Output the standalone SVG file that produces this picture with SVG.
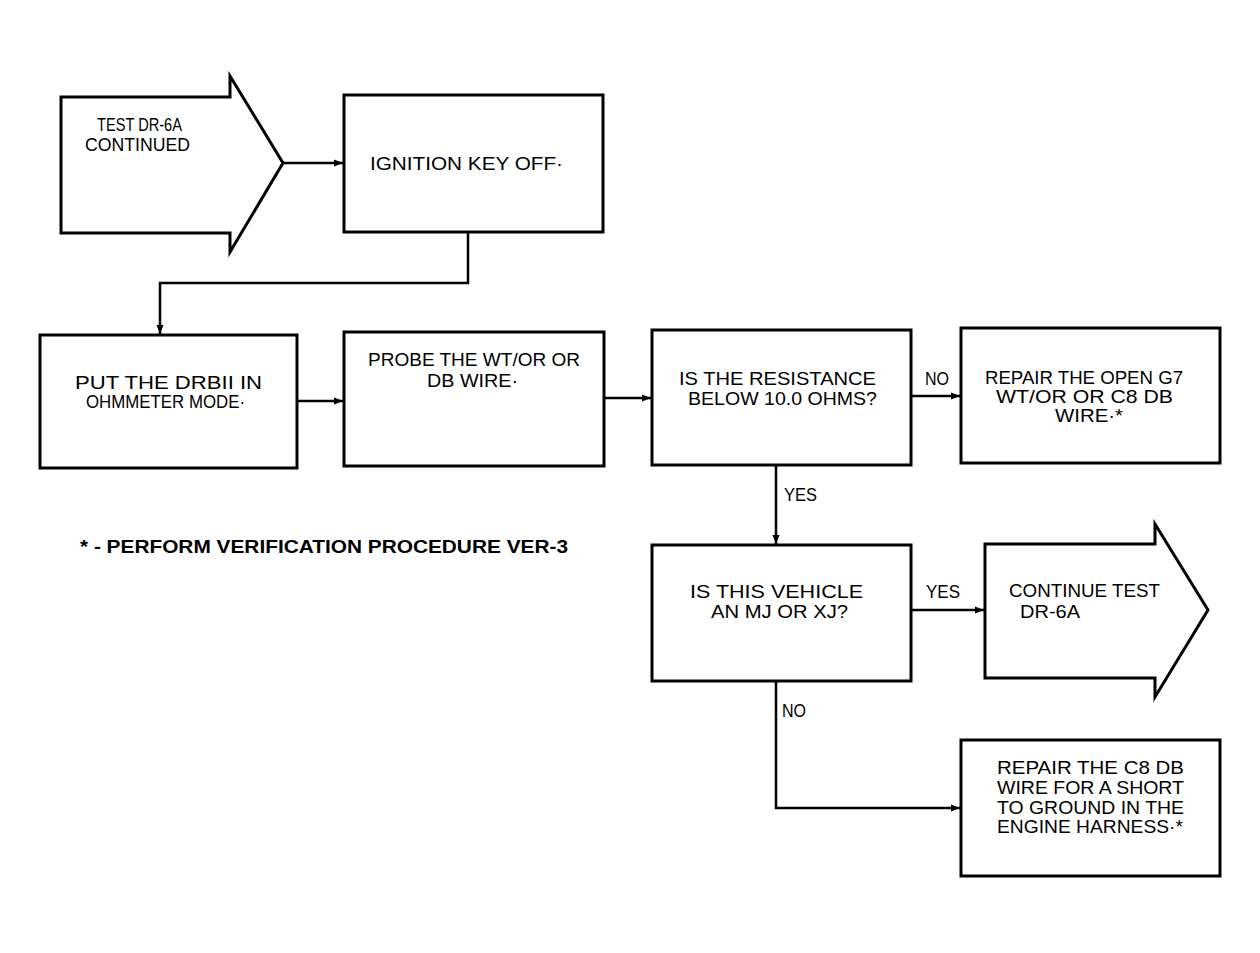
<svg xmlns="http://www.w3.org/2000/svg" width="1260" height="953" viewBox="0 0 1260 953">
<style>
.box{fill:#fff;stroke:#000;stroke-width:3}
.c{fill:none;stroke:#000;stroke-width:2.5}
text{font-family:"Liberation Sans",Arial,sans-serif;font-size:19px;fill:#000}
.lbl{font-size:18px}
.fn{font-weight:bold;font-size:19px}
</style>
<defs>
<marker id="ah" markerWidth="10" markerHeight="8" refX="9" refY="4" orient="auto" markerUnits="userSpaceOnUse">
<path d="M0,0.5 L9,4 L0,7.5 Z" fill="#000"/>
</marker>
</defs>
<rect width="1260" height="953" fill="#fff"/>
<g id="connectors">
<path class="c" d="M283,163 H343" marker-end="url(#ah)"/>
<path class="c" d="M468,232 V283 H160 V334" marker-end="url(#ah)"/>
<path class="c" d="M297,401 H343" marker-end="url(#ah)"/>
<path class="c" d="M604,398 H651" marker-end="url(#ah)"/>
<path class="c" d="M911,396 H960" marker-end="url(#ah)"/>
<path class="c" d="M776,465 V544" marker-end="url(#ah)"/>
<path class="c" d="M911,610 H984" marker-end="url(#ah)"/>
<path class="c" d="M776,681 V808 H960" marker-end="url(#ah)"/>
<text class="lbl" x="925" y="385" textLength="24" lengthAdjust="spacingAndGlyphs">NO</text>
<text class="lbl" x="784" y="501" textLength="33" lengthAdjust="spacingAndGlyphs">YES</text>
<text class="lbl" x="926" y="598" textLength="34" lengthAdjust="spacingAndGlyphs">YES</text>
<text class="lbl" x="782" y="717" textLength="24" lengthAdjust="spacingAndGlyphs">NO</text>
</g>
<g id="start">
<path class="box" d="M61,97 H230 V76 L283,163 L230,252 V233 H61 Z"/>
<text x="97" y="131" textLength="85" lengthAdjust="spacingAndGlyphs">TEST DR-6A</text>
<text x="85" y="151" textLength="105" lengthAdjust="spacingAndGlyphs">CONTINUED</text>
</g>
<g id="ignition">
<rect class="box" x="344" y="95" width="259" height="137"/>
<text x="370" y="170" textLength="193" lengthAdjust="spacingAndGlyphs">IGNITION KEY OFF·</text>
</g>
<g id="drbii">
<rect class="box" x="40" y="335" width="257" height="133"/>
<text x="75" y="389" textLength="187" lengthAdjust="spacingAndGlyphs">PUT THE DRBII IN</text>
<text x="86" y="408" textLength="159" lengthAdjust="spacingAndGlyphs">OHMMETER MODE·</text>
</g>
<g id="probe">
<rect class="box" x="344" y="332" width="260" height="134"/>
<text x="368" y="366" textLength="212" lengthAdjust="spacingAndGlyphs">PROBE THE WT/OR OR</text>
<text x="427" y="387" textLength="91" lengthAdjust="spacingAndGlyphs">DB WIRE·</text>
</g>
<g id="resistance">
<rect class="box" x="652" y="330" width="259" height="135"/>
<text x="679" y="385" textLength="197" lengthAdjust="spacingAndGlyphs">IS THE RESISTANCE</text>
<text x="688" y="405" textLength="189" lengthAdjust="spacingAndGlyphs">BELOW 10.0 OHMS?</text>
</g>
<g id="repair-open">
<rect class="box" x="961" y="328" width="259" height="135"/>
<text x="985" y="384" textLength="198" lengthAdjust="spacingAndGlyphs">REPAIR THE OPEN G7</text>
<text x="996" y="403" textLength="177" lengthAdjust="spacingAndGlyphs">WT/OR OR C8 DB</text>
<text x="1055" y="422" textLength="68" lengthAdjust="spacingAndGlyphs">WIRE·*</text>
</g>
<g id="vehicle">
<rect class="box" x="652" y="545" width="259" height="136"/>
<text x="690" y="598" textLength="173" lengthAdjust="spacingAndGlyphs">IS THIS VEHICLE</text>
<text x="711" y="618" textLength="137" lengthAdjust="spacingAndGlyphs">AN MJ OR XJ?</text>
</g>
<g id="continue">
<path class="box" d="M985,544 H1155 V524 L1208,610 L1155,697 V678 H985 Z"/>
<text x="1009" y="597" textLength="151" lengthAdjust="spacingAndGlyphs">CONTINUE TEST</text>
<text x="1020" y="618" textLength="60" lengthAdjust="spacingAndGlyphs">DR-6A</text>
</g>
<g id="repair-short">
<rect class="box" x="961" y="740" width="259" height="136"/>
<text x="997" y="774" textLength="187" lengthAdjust="spacingAndGlyphs">REPAIR THE C8 DB</text>
<text x="997" y="794" textLength="187" lengthAdjust="spacingAndGlyphs">WIRE FOR A SHORT</text>
<text x="997" y="814" textLength="187" lengthAdjust="spacingAndGlyphs">TO GROUND IN THE</text>
<text x="997" y="833" textLength="186" lengthAdjust="spacingAndGlyphs">ENGINE HARNESS·*</text>
</g>
<g id="footnote">
<text class="fn" x="80" y="553" textLength="488" lengthAdjust="spacingAndGlyphs">* - PERFORM VERIFICATION PROCEDURE VER-3</text>
</g>
</svg>
